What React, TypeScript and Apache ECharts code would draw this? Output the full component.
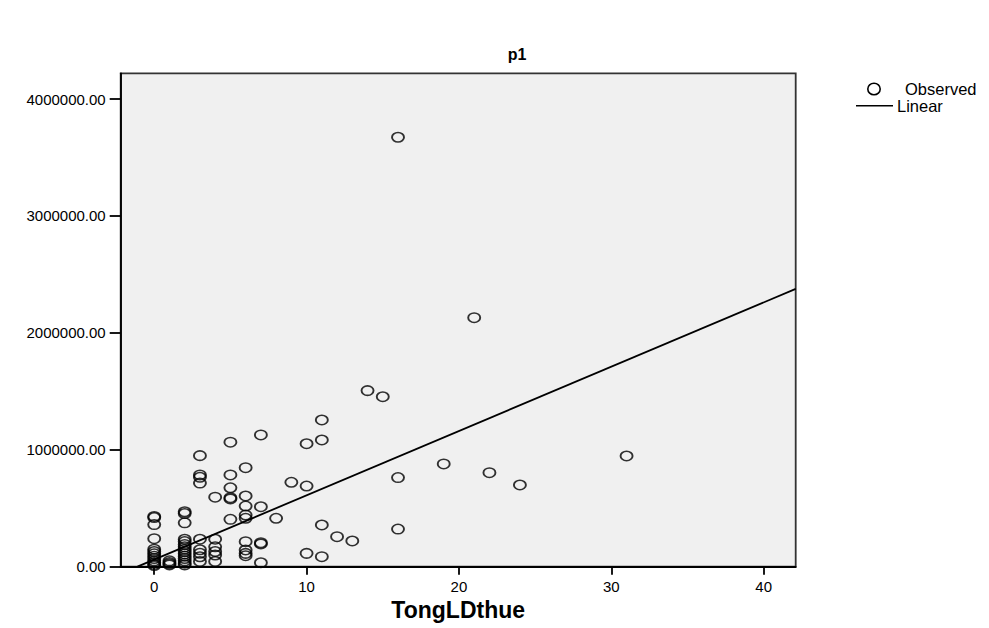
import React, { useEffect, useRef } from "react";
import * as echarts from "echarts";

// Observed points: TongLDthue (x) and p1 (y)
const OBS_X: number[] = [
  0, 0, 0, 0, 0, 0, 0, 0, 0, 0, 0, 0, 0,
  1, 1, 1, 1,
  2, 2, 2, 2, 2, 2, 2, 2, 2, 2, 2, 2, 2, 2, 2,
  3, 3, 3, 3, 3, 3, 3, 3, 3,
  4, 4, 4, 4, 4, 4,
  5, 5, 5, 5, 5, 5,
  6, 6, 6, 6, 6, 6, 6, 6, 6,
  7, 7, 7, 7, 7,
  8, 9,
  10, 10, 10,
  11, 11, 11, 11,
  12, 13, 14, 15,
  16, 16, 16,
  19, 21, 22, 24, 31,
];
const OBS_Y: number[] = [
  430000, 420000, 360000, 240000, 150000, 130000, 110000, 90000, 70000, 50000, 35000, 20000, 10000,
  50000, 35000, 25000, 15000,
  470000, 455000, 375000, 235000, 215000, 190000, 170000, 150000, 130000, 110000, 90000, 70000, 50000, 30000, 15000,
  950000, 785000, 765000, 715000, 235000, 145000, 115000, 85000, 45000,
  595000, 235000, 170000, 130000, 100000, 45000,
  1065000, 785000, 675000, 590000, 580000, 405000,
  847000, 605000, 519000, 442000, 414000, 214000, 143000, 114000, 94000,
  1127000, 513000, 205000, 195000, 34000,
  414000, 722000,
  1052000, 690000, 114000,
  1255000, 1084000, 357000, 86000,
  257000, 220000, 1506000, 1454000,
  3673000, 762000, 322000,
  879000, 2130000, 804000, 699000, 947000,
];

// Linear fit line, endpoints
const LINE_X: number[] = [-1.1, 42.1];
const LINE_Y: number[] = [0, 2376000];

const X_TICKS: number[] = [0, 10, 20, 30, 40];
const Y_TICKS: number[] = [0, 1000000, 2000000, 3000000, 4000000];

const TITLE = "p1";
const X_NAME = "TongLDthue";
const LEGEND_NAMES = ["Observed", "Linear"];

const ELLIPSE = "path://M0,5A5,5 0 1,1 10,5A5,5 0 1,1 0,5Z";
const FONT = "'Liberation Sans', Arial, sans-serif";

export default function App() {
  const ref = useRef<HTMLDivElement>(null);

  useEffect(() => {
    document.body.style.margin = "0";
    if (!ref.current) return;
    const chart = echarts.init(ref.current, undefined, { renderer: "svg" });
    const scatterData = OBS_X.map((x, i) => [x, OBS_Y[i]]);
    const lineData = LINE_X.map((x, i) => [x, LINE_Y[i]]);

    chart.setOption({
      animation: false,
      backgroundColor: "#ffffff",
      title: {
        text: TITLE,
        left: 512,
        top: 41,
        textAlign: "center",
        textStyle: { fontFamily: FONT, fontWeight: "bold", fontSize: 16, color: "#000" },
      },
      grid: {
        left: 120.7,
        right: 193.3,
        top: 73.3,
        bottom: 61.3,
        show: true,
        backgroundColor: "#f0f0f0",
        borderColor: "#333",
        borderWidth: 1.8,
      },
      xAxis: {
        type: "value",
        min: -2.2,
        max: 42.1,
        name: X_NAME,
        nameLocation: "middle",
        nameGap: 31,
        nameTextStyle: { fontFamily: FONT, fontWeight: "bold", fontSize: 23, color: "#000" },
        splitLine: { show: false },
        axisLine: { show: true, onZero: false, lineStyle: { color: "#000", width: 1.8 } },
        axisTick: { show: true, length: 8, lineStyle: { color: "#000", width: 1.8 }, customValues: X_TICKS },
        axisLabel: {
          fontFamily: FONT,
          fontSize: 15,
          color: "#000",
          margin: 12,
          customValues: X_TICKS,
          formatter: (v: number) => String(v),
        },
      },
      yAxis: {
        type: "value",
        min: 0,
        max: 4220000,
        splitLine: { show: false },
        axisLine: { show: true, onZero: false, lineStyle: { color: "#000", width: 1.8 } },
        axisTick: { show: true, length: 11, lineStyle: { color: "#000", width: 1.8 }, customValues: Y_TICKS },
        axisLabel: {
          fontFamily: FONT,
          fontSize: 15,
          color: "#000",
          margin: 15,
          customValues: Y_TICKS,
          formatter: (v: number) => v.toFixed(2),
        },
      },
      series: [
        {
          name: LEGEND_NAMES[0],
          type: "scatter",
          data: scatterData,
          symbol: ELLIPSE,
          symbolSize: [12, 9.5],
          itemStyle: { color: "rgba(0,0,0,0)", borderColor: "#000", borderWidth: 1.7 },
          z: 2,
        },
        {
          name: LEGEND_NAMES[1],
          type: "line",
          data: lineData,
          showSymbol: false,
          symbol: "none",
          lineStyle: { color: "#000", width: 1.8 },
          clip: true,
          z: 3,
        },
      ],
      graphic: [
        {
          type: "ellipse",
          shape: { cx: 874, cy: 89, rx: 6.2, ry: 5.8 },
          style: { fill: "none", stroke: "#000", lineWidth: 1.6 },
        },
        {
          type: "text",
          x: 905,
          y: 89,
          style: { text: LEGEND_NAMES[0], fontFamily: FONT, fontSize: 16.5, fill: "#000", verticalAlign: "middle" },
        },
        {
          type: "line",
          shape: { x1: 856, y1: 105.7, x2: 893, y2: 105.7 },
          style: { stroke: "#000", lineWidth: 1.6 },
        },
        {
          type: "text",
          x: 897,
          y: 105.7,
          style: { text: LEGEND_NAMES[1], fontFamily: FONT, fontSize: 16.5, fill: "#000", verticalAlign: "middle" },
        },
      ],
    });

    return () => chart.dispose();
  }, []);

  return <div ref={ref} style={{ position: "fixed", left: 0, top: 0, width: 989, height: 628 }} />;
}
